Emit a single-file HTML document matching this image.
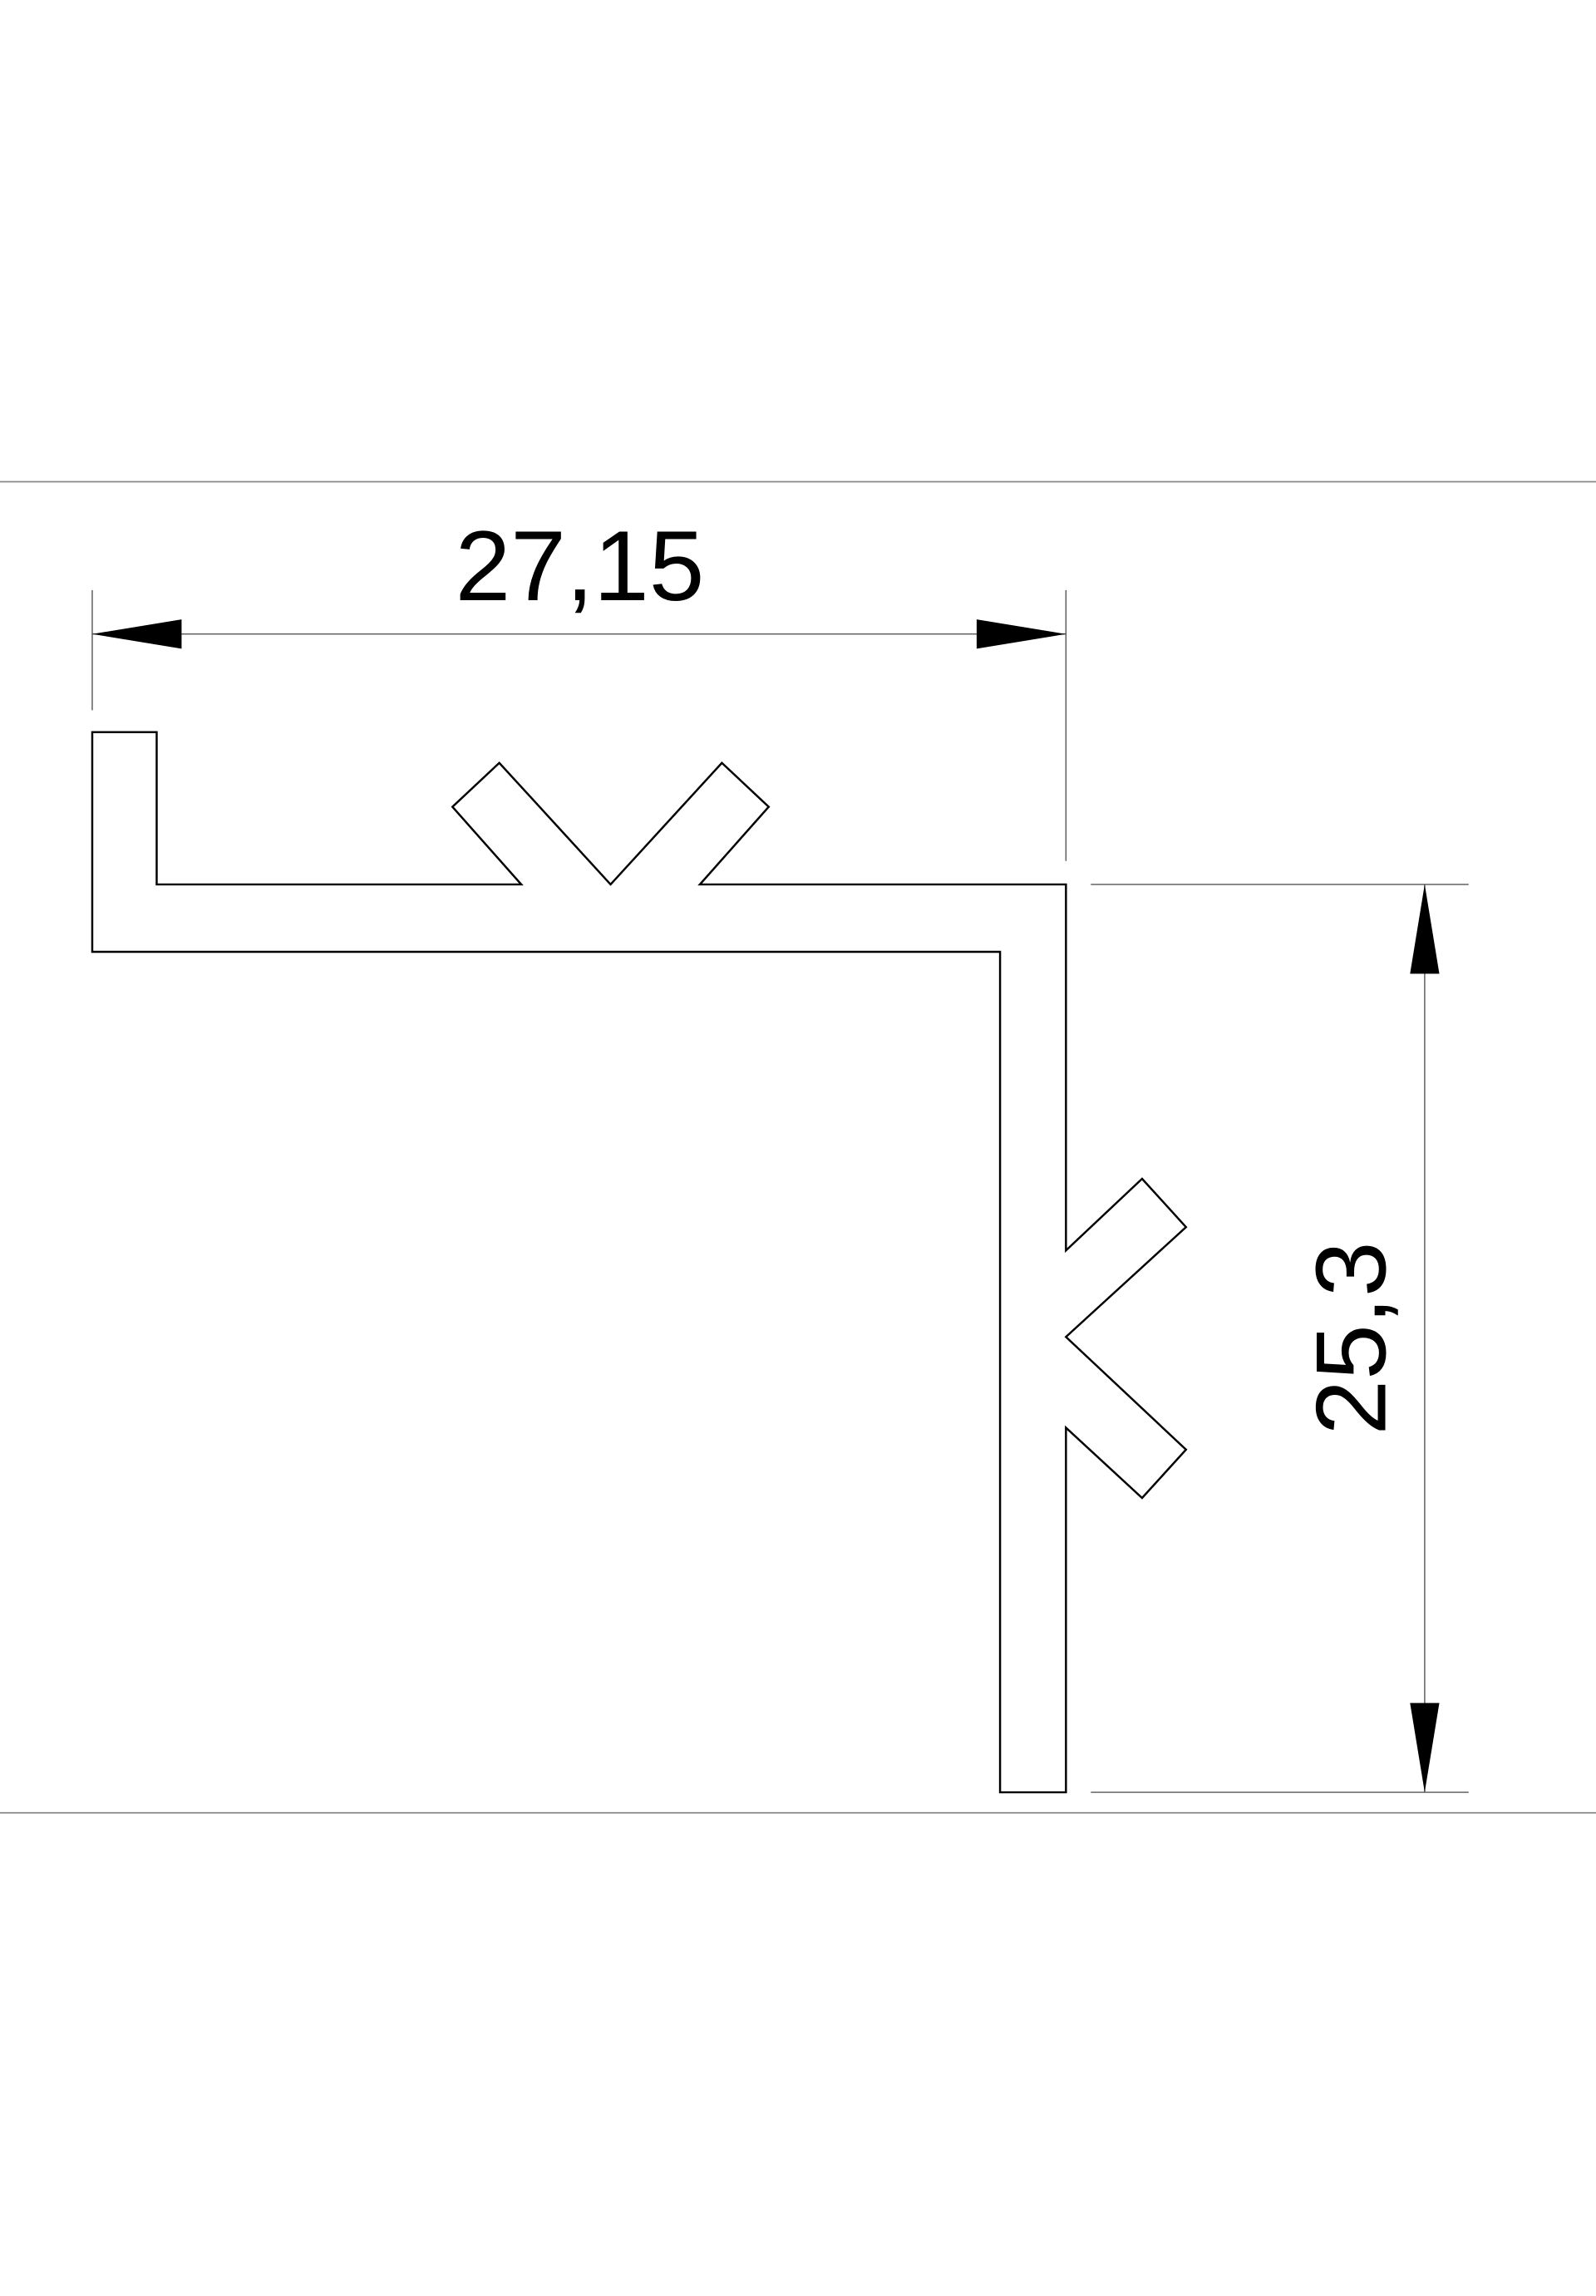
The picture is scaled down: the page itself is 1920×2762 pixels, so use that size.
<!DOCTYPE html>
<html><head><meta charset="utf-8"><style>html,body{margin:0;padding:0;background:#fff}svg{display:block}</style></head>
<body>
<svg width="1920" height="2762" viewBox="0 0 1090 1568" preserveAspectRatio="none" xmlns="http://www.w3.org/2000/svg">
<rect width="1090" height="1568" fill="#fff"/>
<line x1="0" y1="329" x2="1090" y2="329" stroke="#888" stroke-width="1"/>
<line x1="0" y1="1238" x2="1090" y2="1238" stroke="#888" stroke-width="1"/>
<path d="M63,500 L107,500 L107,604 L356,604 L309,551 L341,521 L417,604 L493,521 L525,551 L478,604 L728,604 L728,854 L780,805 L810,838 L728,913 L810,990 L780,1023 L728,975 L728,1224 L683,1224 L683,650 L63,650 Z" fill="none" stroke="#000" stroke-width="1.4"/>
<g stroke="#555" stroke-width="0.8">
<line x1="63" y1="403" x2="63" y2="485"/>
<line x1="728" y1="403" x2="728" y2="588"/>
<line x1="63" y1="433" x2="728" y2="433"/>
<line x1="745" y1="604" x2="1003" y2="604"/>
<line x1="745" y1="1224" x2="1003" y2="1224"/>
<line x1="973" y1="604" x2="973" y2="1224"/>
</g>
<polygon points="63,433 124,423 124,443" fill="#000"/>
<polygon points="728,433 667,423 667,443" fill="#000"/>
<polygon points="973,604 963,665 983,665" fill="#000"/>
<polygon points="973,1224 963,1163 983,1163" fill="#000"/>
<text x="396" y="410" font-family="Liberation Sans, sans-serif" font-size="68" text-anchor="middle" fill="#000">27,15</text>
<text x="0" y="0" transform="translate(946,914) rotate(-90)" font-family="Liberation Sans, sans-serif" font-size="68" text-anchor="middle" fill="#000">25,3</text>
</svg>
</body></html>
